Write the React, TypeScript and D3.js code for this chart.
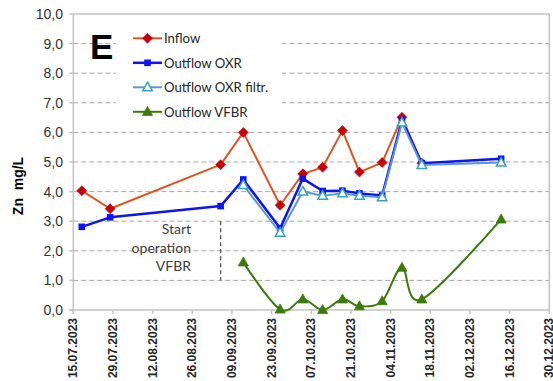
import React from "react";
import * as d3 from "d3";

// Sampling dates (dd.mm.yyyy) and zinc concentrations in mg/L
const inflowDates = ["18.07.2023", "28.07.2023", "05.09.2023", "13.09.2023", "26.09.2023", "04.10.2023", "11.10.2023", "18.10.2023", "24.10.2023", "01.11.2023", "08.11.2023", "15.11.2023"];
const inflowValues = [4.03, 3.42, 4.91, 6.0, 3.54, 4.6, 4.82, 6.06, 4.66, 4.98, 6.51, 4.96];

const oxrDates = ["18.07.2023", "28.07.2023", "05.09.2023", "13.09.2023", "26.09.2023", "04.10.2023", "11.10.2023", "18.10.2023", "24.10.2023", "01.11.2023", "08.11.2023", "15.11.2023", "13.12.2023"];
const oxrValues = [2.81, 3.13, 3.51, 4.41, 2.76, 4.44, 4.02, 4.03, 3.94, 3.87, 6.42, 4.96, 5.11];

const filtrDates = ["13.09.2023", "26.09.2023", "04.10.2023", "11.10.2023", "18.10.2023", "24.10.2023", "01.11.2023", "08.11.2023", "15.11.2023", "13.12.2023"];
const filtrValues = [4.22, 2.61, 4.0, 3.86, 3.94, 3.86, 3.81, 6.33, 4.9, 4.98];

const vfbrDates = ["13.09.2023", "26.09.2023", "04.10.2023", "11.10.2023", "18.10.2023", "24.10.2023", "01.11.2023", "08.11.2023", "15.11.2023", "13.12.2023"];
const vfbrValues = [1.61, 0.02, 0.36, 0.0, 0.36, 0.13, 0.3, 1.43, 0.36, 3.06];

const xTickLabels = ["15.07.2023", "29.07.2023", "12.08.2023", "26.08.2023", "09.09.2023", "23.09.2023", "07.10.2023", "21.10.2023", "04.11.2023", "18.11.2023", "02.12.2023", "16.12.2023", "30.12.2023"];
const yTicks = [0, 1, 2, 3, 4, 5, 6, 7, 8, 9, 10];

const startDate = "05.09.2023";
const startRange = [1.0, 3.0];
const startLines = ["Start", "operation", "VFBR"];

const panelLetter = "E";
const yLabel = "Zn  mg/L";

const parse = d3.utcParse("%d.%m.%Y");
const fmtY = (v: number) => v.toFixed(1).replace(".", ",");

const W = 553;
const H = 381;
const left = 73.3;
const right = 549.3;
const top = 14;
const bottom = 310;

const x = d3
  .scaleUtc()
  .domain([parse(xTickLabels[0])!, parse(xTickLabels[xTickLabels.length - 1])!])
  .range([left, right]);
const y = d3.scaleLinear().domain([0, 10]).range([bottom, top]);

type Pt = { d: Date; v: number };
const zip = (ds: string[], vs: number[]): Pt[] => ds.map((s, i) => ({ d: parse(s)!, v: vs[i] }));

const straight = d3
  .line<Pt>()
  .x((p) => x(p.d))
  .y((p) => y(p.v));
const smooth = d3
  .line<Pt>()
  .x((p) => x(p.d))
  .y((p) => y(p.v))
  .curve(d3.curveCatmullRom.alpha(0));

const C = {
  inflowLine: "#e2531f",
  inflowMark: "#c8000a",
  oxr: "#0a14f5",
  filtrLine: "#5b95e0",
  filtrMark: "#38a3b5",
  vfbr: "#3d7a0c",
  grid: "#a9a9a9",
  axis: "#c3c3c3",
  text: "#262626",
};

const diamond = (cx: number, cy: number, r = 5) =>
  `M${cx},${cy - r}L${cx + r},${cy}L${cx},${cy + r}L${cx - r},${cy}Z`;
const triangle = (cx: number, cy: number, s = 9.5) => {
  const h = s * 0.9;
  return `M${cx},${cy - h * 0.6}L${cx + s / 2},${cy + h * 0.4}L${cx - s / 2},${cy + h * 0.4}Z`;
};

function Marker({ kind, cx, cy }: { kind: string; cx: number; cy: number }) {
  if (kind === "inflow") return <path d={diamond(cx, cy)} fill={C.inflowMark} stroke={C.inflowMark} strokeWidth={0.6} />;
  if (kind === "oxr") return <rect x={cx - 3.3} y={cy - 3.3} width={6.6} height={6.6} fill={C.oxr} />;
  if (kind === "filtr") return <path d={triangle(cx, cy)} fill="#ffffff" stroke={C.filtrMark} strokeWidth={1.5} />;
  return <path d={triangle(cx, cy, 10)} fill={C.vfbr} stroke={C.vfbr} strokeWidth={0.8} />;
}

const series = [
  { key: "inflow", name: "Inflow", pts: zip(inflowDates, inflowValues), color: C.inflowLine, width: 2, curve: straight },
  { key: "oxr", name: "Outflow OXR", pts: zip(oxrDates, oxrValues), color: C.oxr, width: 2.5, curve: straight },
  { key: "filtr", name: "Outflow OXR filtr.", pts: zip(filtrDates, filtrValues), color: C.filtrLine, width: 2, curve: straight },
  { key: "vfbr", name: "Outflow VFBR", pts: zip(vfbrDates, vfbrValues), color: C.vfbr, width: 2, curve: smooth },
];

export default function App() {
  const sx = x(parse(startDate)!);
  const textFont = "Lato, 'Open Sans', sans-serif";
  const axisFont = "'Liberation Sans', Arial, sans-serif";
  return (
    <div style={{ position: "absolute", left: 0, top: 0 }}>
      <svg width={W} height={H} style={{ display: "block", background: "#fff" }}>
        {/* horizontal grid */}
        {yTicks.slice(1, -1).map((t) => (
          <line key={t} x1={left} x2={right} y1={y(t)} y2={y(t)} stroke={C.grid} strokeWidth={1} strokeDasharray="5,3" />
        ))}
        {/* plot frame: top and right */}
        <line x1={left} x2={right} y1={top} y2={top} stroke={C.axis} strokeWidth={1.5} />
        <line x1={right} x2={right} y1={top} y2={bottom} stroke={C.axis} strokeWidth={1.5} />

        {/* legend backdrop */}
        <rect x={116} y={20} width={166} height={104} fill="#fff" />

        {/* axes */}
        <line x1={left} x2={left} y1={top} y2={bottom + 4} stroke={C.axis} strokeWidth={1.5} />
        <line x1={left - 4} x2={right} y1={bottom} y2={bottom} stroke={C.axis} strokeWidth={1.5} />
        {yTicks.map((t) => (
          <g key={t}>
            <line x1={left - 4} x2={left} y1={y(t)} y2={y(t)} stroke={C.axis} strokeWidth={1.5} />
            <text x={63} y={y(t)} dy="0.35em" textAnchor="end" fontSize={14} fontFamily={axisFont} fill="#333">
              {fmtY(t)}
            </text>
          </g>
        ))}
        {xTickLabels.map((s) => {
          const tx = x(parse(s)!);
          return (
            <g key={s}>
              <line x1={tx} x2={tx} y1={bottom} y2={bottom + 4} stroke={C.axis} strokeWidth={1.5} />
              <text
                transform={`translate(${tx + 4},${bottom + 8}) rotate(-90)`}
                textAnchor="end"
                fontSize={12}
                fontWeight="bold"
                fontFamily={axisFont}
                fill={C.text}
              >
                {s}
              </text>
            </g>
          );
        })}

        {/* y label */}
        <text
          transform={`translate(23,186) rotate(-90)`}
          textAnchor="middle"
          fontSize={14}
          fontWeight="bold"
          fontFamily={axisFont}
          fill="#000"
          style={{ whiteSpace: "pre" }}
        >
          {yLabel}
        </text>

        {/* panel letter */}
        <text x={90} y={59} fontSize={35} fontWeight="bold" fontFamily={axisFont} fill="#000">
          {panelLetter}
        </text>

        {/* start of VFBR operation */}
        <line x1={sx} x2={sx} y1={y(startRange[1])} y2={y(startRange[0])} stroke="#555" strokeWidth={1.3} strokeDasharray="4,3" />
        {startLines.map((l, i) => (
          <text key={l} x={191} y={234 + i * 18.5} textAnchor="end" fontSize={14} fontFamily={textFont} fill="#404040">
            {l}
          </text>
        ))}

        {/* series */}
        {series.map((s) => (
          <g key={s.key}>
            <path d={s.curve(s.pts) ?? ""} fill="none" stroke={s.color} strokeWidth={s.width} strokeLinejoin="round" />
            {s.pts.map((p, i) => (
              <Marker key={i} kind={s.key} cx={x(p.d)} cy={y(p.v)} />
            ))}
          </g>
        ))}

        {/* legend */}
        {series.map((s, i) => {
          const ly = 38.3 + i * 24.5;
          return (
            <g key={s.key}>
              <line x1={133} x2={162} y1={ly} y2={ly} stroke={s.color} strokeWidth={s.width} />
              <Marker kind={s.key} cx={147.5} cy={ly} />
              <text x={164} y={ly} dy="0.36em" fontSize={13.2} fontFamily={textFont} fill={C.text}>
                {s.name}
              </text>
            </g>
          );
        })}
      </svg>
    </div>
  );
}
